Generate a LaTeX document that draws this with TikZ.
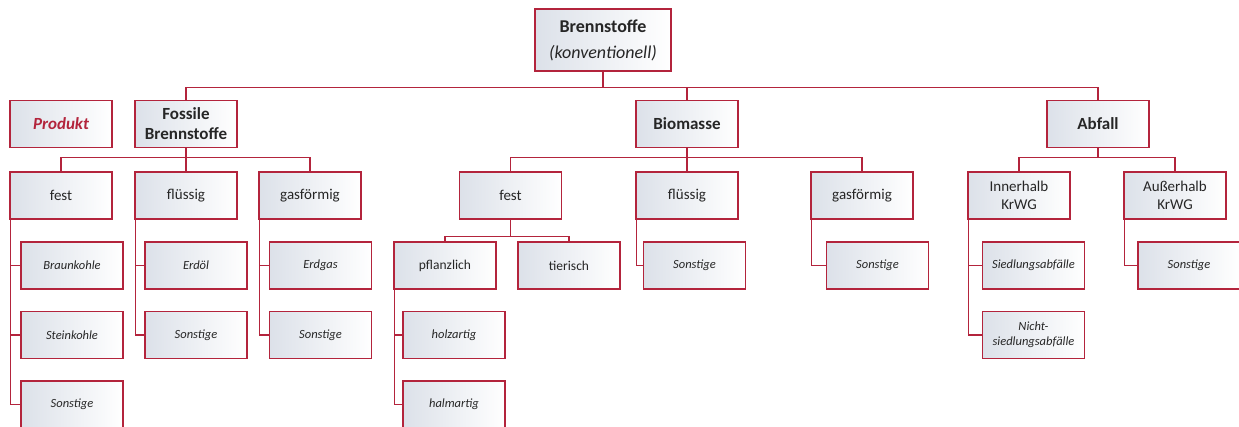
\documentclass[tikz,border=0pt]{standalone}
\usepackage{fontspec}
\setmainfont{Carlito}
\definecolor{frame}{HTML}{B3243C}
\definecolor{ink}{HTML}{262626}
\definecolor{tint}{HTML}{DCE1E9}
\tikzset{
  box/.style={draw=frame, line width=1.3pt, minimum width=102pt, minimum height=47pt,
    inner sep=0pt, align=center, text=ink,
    left color=tint, right color=white},
  lvlzero/.style={box, font=\fontsize{18}{26}\selectfont\bfseries},
  lvlone/.style={box, font=\fontsize{17}{20}\selectfont\bfseries},
  lvltwo/.style={box, font=\fontsize{15}{18}\selectfont},
  lvlthree/.style={box, font=\fontsize{12.5}{15}\selectfont\itshape},
  link/.style={draw=frame, line width=1.3pt},
}
\begin{document}
\begin{tikzpicture}[x=1pt, y=-1pt]
\useasboundingbox (0,0) rectangle (1239,426);

% root
\node[lvlzero, minimum width=136pt, minimum height=62pt] (root) at (603,40)
  {Brennstoffe\\\mdseries\itshape (konventionell)};

% first level
\node[lvlone, text=frame, font=\fontsize{17}{20}\selectfont\bfseries\itshape] (prod) at (61,124) {Produkt};
\node[lvlone] (fos) at (186,124) {Fossile\\Brennstoffe};
\node[lvlone] (bio) at (687,124) {Biomasse};
\node[lvlone] (abf) at (1098,124) {Abfall};

% second level
\node[lvltwo] (ffest) at (61,195.5) {fest};
\node[lvltwo] (ffl) at (186,195.5) {flüssig};
\node[lvltwo] (fgas) at (310,195.5) {gasförmig};
\node[lvltwo] (bfest) at (510.5,195.5) {fest};
\node[lvltwo] (bfl) at (687,195.5) {flüssig};
\node[lvltwo] (bgas) at (862,195.5) {gasförmig};
\node[lvltwo] (ainn) at (1019,195.5) {Innerhalb\\KrWG};
\node[lvltwo] (aaus) at (1175,195.5) {Außerhalb\\KrWG};

% third level
\node[lvlthree] (braun) at (72,265.5) {Braunkohle};
\node[lvlthree] (stein) at (72,335) {Steinkohle};
\node[lvlthree] (fsonst) at (72,404.5) {Sonstige};
\node[lvlthree] (erdoel) at (196,265.5) {Erdöl};
\node[lvlthree] (flsonst) at (196,335) {Sonstige};
\node[lvlthree] (erdgas) at (320.5,265.5) {Erdgas};
\node[lvlthree] (gsonst) at (320.5,335) {Sonstige};
\node[lvltwo, font=\fontsize{13.5}{16}\selectfont] (pfl) at (445,265.5) {pflanzlich};
\node[lvltwo, font=\fontsize{13.5}{16}\selectfont] (tier) at (569,265.5) {tierisch};
\node[lvlthree] (holz) at (454,335) {holzartig};
\node[lvlthree] (halm) at (454,404.5) {halmartig};
\node[lvlthree] (bflsonst) at (694.5,265.5) {Sonstige};
\node[lvlthree] (bgsonst) at (877.5,265.5) {Sonstige};
\node[lvlthree] (sied) at (1033.5,265.5) {Siedlungsabfälle};
\node[lvlthree] (nsied) at (1033.5,335) {Nicht-\\siedlungsabfälle};
\node[lvlthree] (asonst) at (1189,265.5) {Sonstige};

% top-down bus connectors
\foreach \c in {fos,bio,abf} \draw[link] (root.south) -- ++(0,16) -| (\c.north);
\foreach \c in {ffest,ffl,fgas} \draw[link] (fos.south) -- ++(0,9) -| (\c.north);
\foreach \c in {bfest,bfl,bgas} \draw[link] (bio.south) -- ++(0,9) -| (\c.north);
\foreach \c in {ainn,aaus} \draw[link] (abf.south) -- ++(0,9) -| (\c.north);
\foreach \c in {pfl,tier} \draw[link] (bfest.south) -- ++(0,17) -| (\c.north);

% side connectors
\foreach \p/\c in {ffest/braun,ffest/stein,ffest/fsonst,ffl/erdoel,ffl/flsonst,
  fgas/erdgas,fgas/gsonst,pfl/holz,pfl/halm,bfl/bflsonst,bgas/bgsonst,
  ainn/sied,ainn/nsied,aaus/asonst}
  \draw[link] ([xshift=1pt]\p.south west) |- (\c.west);
\end{tikzpicture}
\end{document}
